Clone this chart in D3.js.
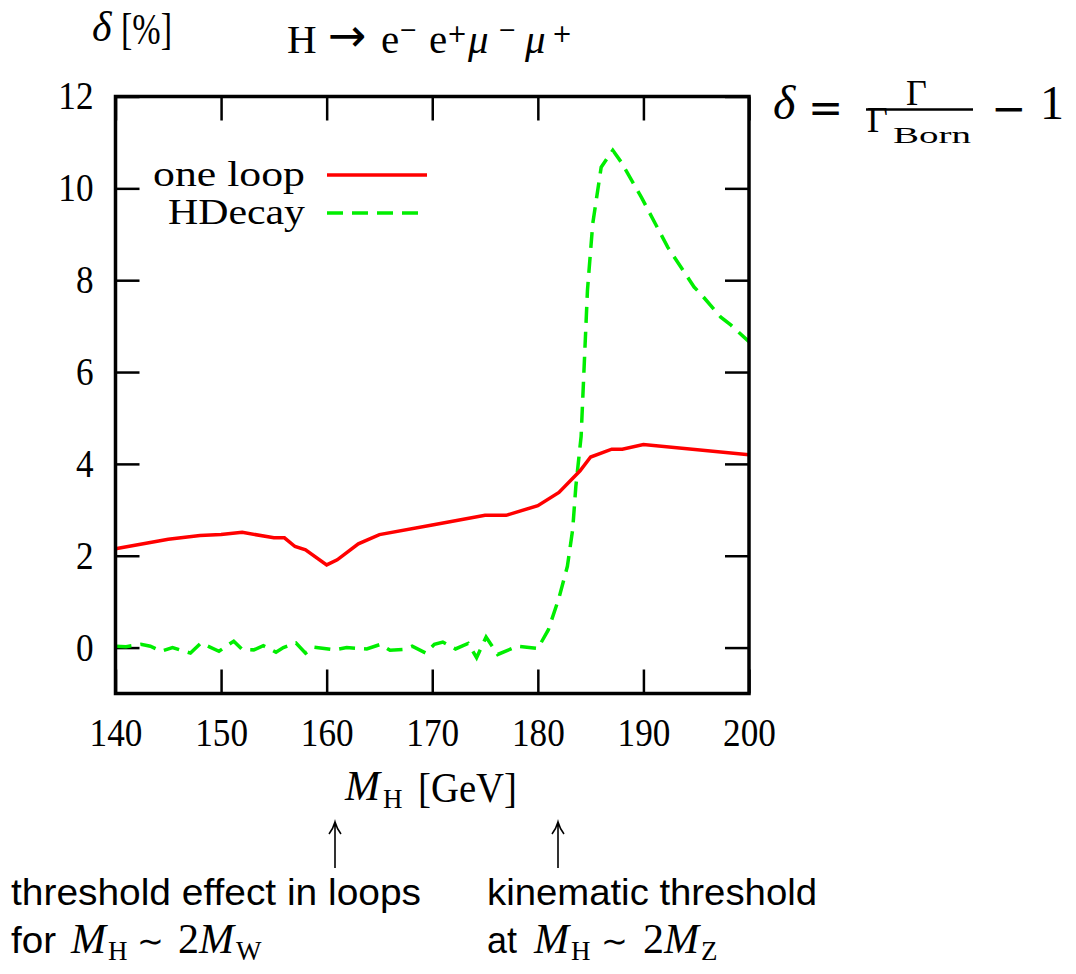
<!DOCTYPE html>
<html>
<head>
<meta charset="utf-8">
<script src="https://cdn.jsdelivr.net/npm/d3@7"></script>
<style>
  html, body { margin: 0; padding: 0; background: #fff; }
  svg { display: block; }
</style>
</head>
<body>
<div id="chart"></div>
<script>
// one loop correction, delta in percent
const oneLoopMass = [140, 145, 148, 150, 152, 155, 156, 157, 158, 160, 161, 163, 165, 170, 175, 177, 180, 182, 184, 185, 187, 188, 190, 200];
const oneLoopDelta = [2.15, 2.36, 2.44, 2.46, 2.51, 2.39, 2.39, 2.2, 2.13, 1.8, 1.91, 2.26, 2.46, 2.67, 2.88, 2.88, 3.09, 3.38, 3.85, 4.15, 4.32, 4.32, 4.42, 4.2];

// HDecay
const hdecayMass = [140, 141, 142.4, 143.3, 144.3, 145.4, 147.1, 148.1, 149.8, 151.2, 152, 153.1, 154, 155.2, 155.9, 157.1, 158, 158.8, 160.7, 161.9, 163.8, 165.1, 166, 167.2, 168.1, 169.4, 170.2, 171, 172.2, 173.4, 174.2, 175.1, 176.2, 178.1, 180, 181, 182, 182.8, 183.3, 183.6, 184.1, 184.7, 185.2, 186, 187.1, 187.9, 189.8, 192.3, 194.8, 195.4, 197.3, 198.3, 200];
const hdecayDelta = [0.03, 0.02, 0.07, 0.03, -0.08, 0, -0.12, 0.1, -0.08, 0.14, -0.04, -0.05, 0.04, -0.1, 0, 0.1, -0.12, 0.01, -0.05, 0, -0.03, 0.07, -0.06, -0.04, 0.03, -0.12, 0.07, 0.12, -0.03, 0.09, -0.22, 0.23, -0.15, 0.03, -0.02, 0.39, 1.08, 1.77, 2.57, 3.51, 4.6, 7.78, 9.23, 10.46, 10.83, 10.57, 9.81, 8.72, 7.85, 7.71, 7.2, 7.02, 6.66];

const xTicks = [140, 150, 160, 170, 180, 190, 200];
const yTicks = [0, 2, 4, 6, 8, 10, 12];
const legendLabels = ["one loop", "HDecay"];

const width = 1076;
const height = 974;
const serif = "'Liberation Serif', 'Times New Roman', serif";
const sym = "'DejaVu Sans', sans-serif";
const sans = "'Liberation Sans', Arial, sans-serif";

const svg = d3.select("#chart")
  .append("svg")
  .attr("width", width)
  .attr("height", height);

const x = d3.scaleLinear().domain([140, 200]).range([115.5, 749]);
const y = d3.scaleLinear().domain([-1, 12]).range([693.5, 96.5]);

// ticks on all four sides, pointing inwards
function styleAxis(g) {
  g.select(".domain").remove();
  g.selectAll(".tick line").attr("stroke", "#000").attr("stroke-width", 2.5);
  g.selectAll(".tick text")
    .attr("font-family", serif)
    .attr("font-size", 39)
    .attr("fill", "#000")
    .filter(function() { return this.textContent.length > 0; })
    .attr("textLength", function() { return this.textContent.length * 17.6; })
    .attr("lengthAdjust", "spacingAndGlyphs");
}

svg.append("g")
  .attr("transform", `translate(0,${y(-1)})`)
  .call(d3.axisBottom(x).tickValues(xTicks).tickSize(-24).tickPadding(25).tickFormat(d3.format("d")))
  .call(styleAxis);

svg.append("g")
  .attr("transform", `translate(0,${y(12)})`)
  .call(d3.axisTop(x).tickValues(xTicks).tickSize(-24).tickFormat(""))
  .call(styleAxis);

svg.append("g")
  .attr("transform", `translate(${x(140)},0)`)
  .call(d3.axisLeft(y).tickValues(yTicks).tickSize(-24).tickPadding(22).tickFormat(d3.format("d")))
  .call(styleAxis);

svg.append("g")
  .attr("transform", `translate(${x(200)},0)`)
  .call(d3.axisRight(y).tickValues(yTicks).tickSize(-24).tickFormat(""))
  .call(styleAxis);

svg.append("defs").append("clipPath")
  .attr("id", "plot-clip")
  .append("rect")
  .attr("x", x(140))
  .attr("y", y(12))
  .attr("width", x(200) - x(140))
  .attr("height", y(-1) - y(12));

const line = d3.line()
  .x(d => x(d[0]))
  .y(d => y(d[1]));

const plot = svg.append("g").attr("clip-path", "url(#plot-clip)");

plot.append("path")
  .datum(d3.zip(hdecayMass, hdecayDelta))
  .attr("fill", "none")
  .attr("stroke", "#00ee00")
  .attr("stroke-width", 3.5)
  .attr("stroke-dasharray", "16,9")
  .attr("d", line);

plot.append("path")
  .datum(d3.zip(oneLoopMass, oneLoopDelta))
  .attr("fill", "none")
  .attr("stroke", "#ff0000")
  .attr("stroke-width", 3.5)
  .attr("d", line);

// frame
svg.append("rect")
  .attr("x", x(140))
  .attr("y", y(12))
  .attr("width", x(200) - x(140))
  .attr("height", y(-1) - y(12))
  .attr("fill", "none")
  .attr("stroke", "#000")
  .attr("stroke-width", 3.5);

// legend
const legend = svg.append("g");
const legendColors = ["#ff0000", "#00ee00"];
const legendDash = [null, "16,9"];
const legendWidths = [152, 137];
legendLabels.forEach((label, i) => {
  const yy = 175 + i * 38;
  legend.append("text")
    .attr("x", 305)
    .attr("y", yy + 11)
    .attr("text-anchor", "end")
    .attr("font-family", serif)
    .attr("font-size", 36)
    .attr("textLength", legendWidths[i])
    .attr("lengthAdjust", "spacingAndGlyphs")
    .text(label);
  legend.append("line")
    .attr("x1", 327).attr("x2", 427)
    .attr("y1", yy).attr("y2", yy)
    .attr("stroke", legendColors[i])
    .attr("stroke-width", 3.5)
    .attr("stroke-dasharray", legendDash[i]);
});

// small helper for pieces of typeset text
function put(t, px, py, size, opts = {}) {
  const el = svg.append("text")
    .attr("x", px)
    .attr("y", py)
    .attr("font-family", opts.family || serif)
    .attr("font-size", size)
    .attr("font-style", opts.italic ? "italic" : "normal")
    .attr("fill", "#000")
    .text(t);
  if (opts.len) {
    el.attr("textLength", opts.len).attr("lengthAdjust", "spacingAndGlyphs");
  }
  return el;
}

// y label
put("δ", 92, 41, 42, { italic: true });
put("[%]", 121, 44, 44, { len: 51 });

// title: H -> e- e+ mu- mu+
put("H", 287, 53, 41);
put("→", 328, 51, 46, { family: sym });
put("e", 381, 53, 41);
put("−", 399, 37, 22, { family: sym });
put("e", 429, 53, 41);
put("+", 447, 42, 24, { family: sym });
put("μ", 468, 53, 41, { italic: true });
put("−", 498, 37, 22, { family: sym });
put("μ", 525, 53, 41, { italic: true });
put("+", 552, 42, 24, { family: sym });

// delta = Gamma / Gamma_Born - 1
put("δ", 773, 119, 48, { italic: true });
put("=", 808, 122, 42, { family: sym });
put("Γ", 906, 105, 36);
svg.append("line")
  .attr("x1", 866).attr("x2", 973)
  .attr("y1", 109.5).attr("y2", 109.5)
  .attr("stroke", "#000").attr("stroke-width", 2.5);
put("Γ", 867, 132, 36);
put("Born", 893, 143, 24, { len: 78 });
put("−", 991, 123, 42, { family: sym });
put("1", 1040, 119, 48);

// x label
put("M", 345, 800, 42, { italic: true });
put("H", 383, 808, 27);
put("[GeV]", 418, 802, 42, { len: 99 });

// annotations
function upArrow(ax) {
  svg.append("path")
    .attr("d", `M${ax},868 L${ax},823 M${ax - 6},834 Q${ax - 2},829 ${ax},822 Q${ax + 2},829 ${ax + 6},834`)
    .attr("fill", "none")
    .attr("stroke", "#000")
    .attr("stroke-width", 1.6);
}
upArrow(335);
upArrow(558);

put("threshold effect in loops", 11, 905, 36, { family: sans, len: 410 });
put("for", 11, 953, 36, { family: sans, len: 45 });
put("M", 71, 953, 42, { italic: true });
put("H", 108, 960, 27);
put("∼", 137, 952, 32, { family: sym });
put("2", 178, 953, 42);
put("M", 199, 953, 42, { italic: true });
put("W", 236, 960, 27);

put("kinematic threshold", 487, 905, 36, { family: sans, len: 330 });
put("at", 487, 953, 36, { family: sans, len: 30 });
put("M", 534, 953, 42, { italic: true });
put("H", 571, 960, 27);
put("∼", 601, 952, 32, { family: sym });
put("2", 643, 953, 42);
put("M", 664, 953, 42, { italic: true });
put("Z", 701, 960, 27);
</script>
</body>
</html>
